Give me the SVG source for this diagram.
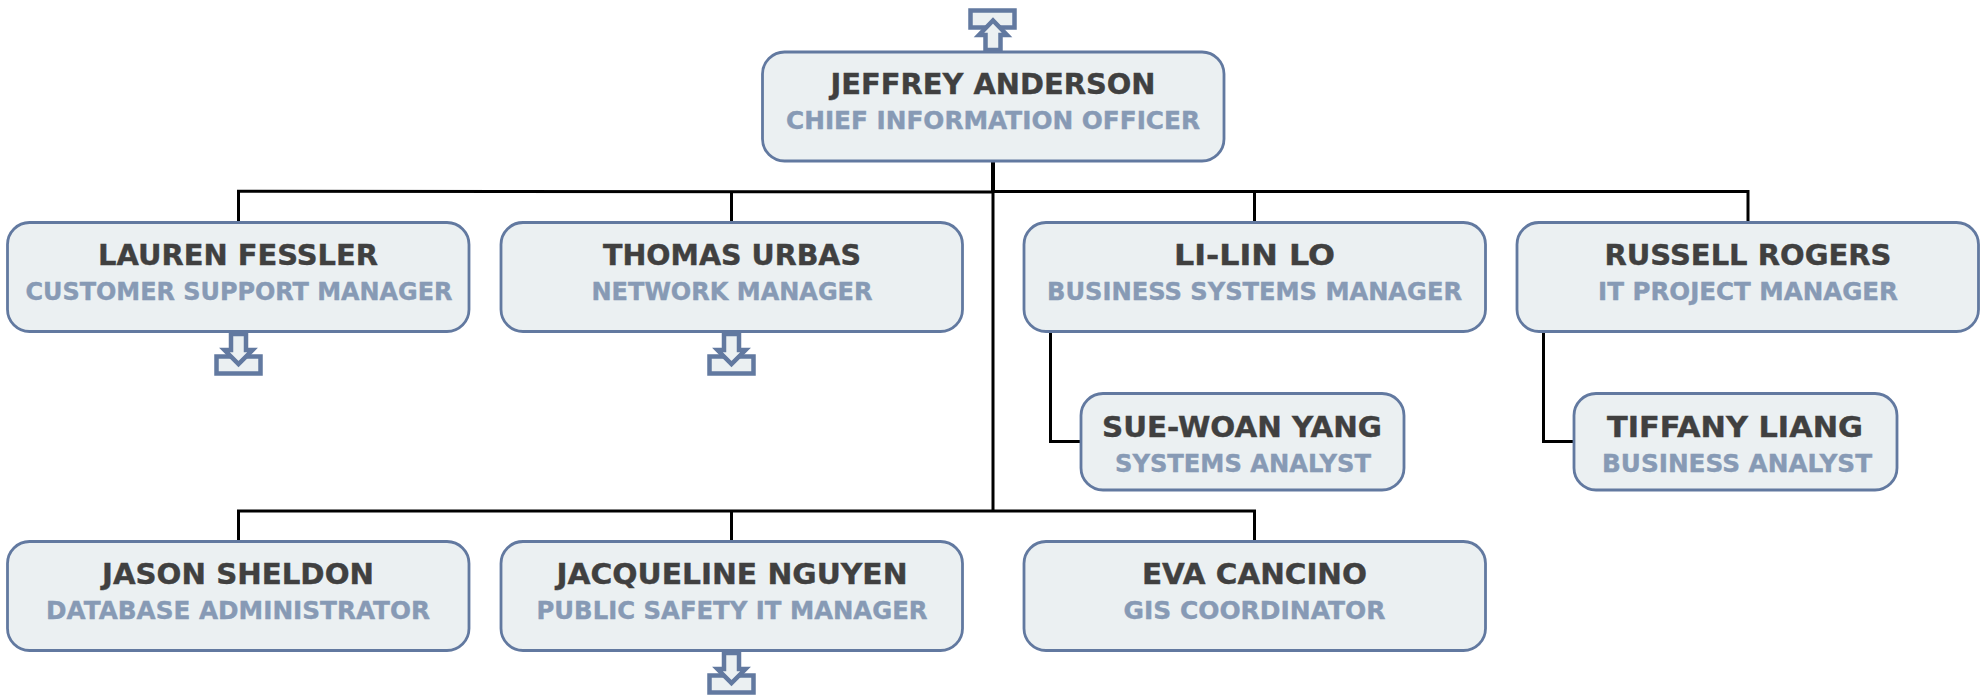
<svg xmlns="http://www.w3.org/2000/svg" width="1986" height="695" viewBox="0 0 1986 695">
<style>
.box{fill:#ebf0f2;stroke:#6279a0;stroke-width:2.800}
.n{font:bold 29px "DejaVu Sans",sans-serif;fill:#404040;stroke:#404040;stroke-width:.4;text-anchor:middle}
.t{font:bold 24px "DejaVu Sans",sans-serif;fill:#879ab5;stroke:#879ab5;stroke-width:.4;text-anchor:middle}
.c{fill:none;stroke:#000;stroke-width:3}
.ic{fill:#ebf0f2;stroke:#6279a0;stroke-width:4.500}
</style>
<defs>
<g id="down"><rect class="ic" x="-22" y="24.500" width="44" height="17"/><path class="ic" d="M-7.500 2H7.500V18H14L0 32L-14 18H-7.500Z"/></g>
</defs>
<g id="connectors">
<path class="c" d="M993 161V192" style="stroke-width:4"/>
<path class="c" d="M993 192V512"/>
<path class="c" d="M993 192L237 191.300M238.500 191V222"/>
<path class="c" d="M993 191.500H1749.500M1748 191.500V222M731.500 192V222M1254.500 192V222"/>
<path class="c" d="M237 511H1256M238.500 511V541M731.500 511V541M1254.500 511V541"/>
<path class="c" d="M1050.500 332V441.500H1081"/>
<path class="c" d="M1543.500 332V441.500H1574"/>
</g>
<g id="jeffrey"><rect class="ic" x="970.500" y="10.500" width="44" height="17"/><path class="ic" d="M985.500 50V35H979L993 20.500L1007 35H1000.500V50Z"/><rect class="box" x="762.500" y="52" width="461.500" height="109" rx="22"/><text class="n" x="993" y="94" textLength="325" lengthAdjust="spacingAndGlyphs">JEFFREY ANDERSON</text><text class="t" x="993" y="129" textLength="414" lengthAdjust="spacingAndGlyphs">CHIEF INFORMATION OFFICER</text></g>
<g id="lauren"><use href="#down" x="238.500" y="332"/><rect class="box" x="7.500" y="222.500" width="461.500" height="109" rx="22"/><text class="n" x="238" y="265" textLength="280" lengthAdjust="spacingAndGlyphs">LAUREN FESSLER</text><text class="t" x="239" y="300" textLength="427" lengthAdjust="spacingAndGlyphs">CUSTOMER SUPPORT MANAGER</text></g>
<g id="thomas"><use href="#down" x="731.500" y="332"/><rect class="box" x="501" y="222.500" width="461.500" height="109" rx="22"/><text class="n" x="732" y="265" textLength="258" lengthAdjust="spacingAndGlyphs">THOMAS URBAS</text><text class="t" x="732" y="300" textLength="281" lengthAdjust="spacingAndGlyphs">NETWORK MANAGER</text></g>
<g id="lilin"><rect class="box" x="1024" y="222.500" width="461.500" height="109" rx="22"/><text class="n" x="1254.500" y="265" textLength="161" lengthAdjust="spacingAndGlyphs">LI-LIN LO</text><text class="t" x="1254.500" y="300" textLength="415" lengthAdjust="spacingAndGlyphs">BUSINESS SYSTEMS MANAGER</text></g>
<g id="russell"><rect class="box" x="1517" y="222.500" width="461.500" height="109" rx="22"/><text class="n" x="1748" y="265" textLength="287" lengthAdjust="spacingAndGlyphs">RUSSELL ROGERS</text><text class="t" x="1748" y="300" textLength="300" lengthAdjust="spacingAndGlyphs">IT PROJECT MANAGER</text></g>
<g id="sue"><rect class="box" x="1081" y="393.500" width="323" height="96.500" rx="22"/><text class="n" x="1242" y="436.500" textLength="280" lengthAdjust="spacingAndGlyphs">SUE-WOAN YANG</text><text class="t" x="1243" y="472" textLength="256" lengthAdjust="spacingAndGlyphs">SYSTEMS ANALYST</text></g>
<g id="tiffany"><rect class="box" x="1574" y="393.500" width="323" height="96.500" rx="22"/><text class="n" x="1735" y="436.500" textLength="256" lengthAdjust="spacingAndGlyphs">TIFFANY LIANG</text><text class="t" x="1737" y="472" textLength="270" lengthAdjust="spacingAndGlyphs">BUSINESS ANALYST</text></g>
<g id="jason"><rect class="box" x="7.500" y="541.500" width="461.500" height="109" rx="22"/><text class="n" x="238" y="584" textLength="272" lengthAdjust="spacingAndGlyphs">JASON SHELDON</text><text class="t" x="238" y="619" textLength="384" lengthAdjust="spacingAndGlyphs">DATABASE ADMINISTRATOR</text></g>
<g id="jacqueline"><use href="#down" x="731.500" y="651"/><rect class="box" x="501" y="541.500" width="461.500" height="109" rx="22"/><text class="n" x="732" y="584" textLength="351" lengthAdjust="spacingAndGlyphs">JACQUELINE NGUYEN</text><text class="t" x="732" y="619" textLength="391" lengthAdjust="spacingAndGlyphs">PUBLIC SAFETY IT MANAGER</text></g>
<g id="eva"><rect class="box" x="1024" y="541.500" width="461.500" height="109" rx="22"/><text class="n" x="1254.500" y="584" textLength="225" lengthAdjust="spacingAndGlyphs">EVA CANCINO</text><text class="t" x="1254.500" y="619" textLength="262" lengthAdjust="spacingAndGlyphs">GIS COORDINATOR</text></g>
</svg>
